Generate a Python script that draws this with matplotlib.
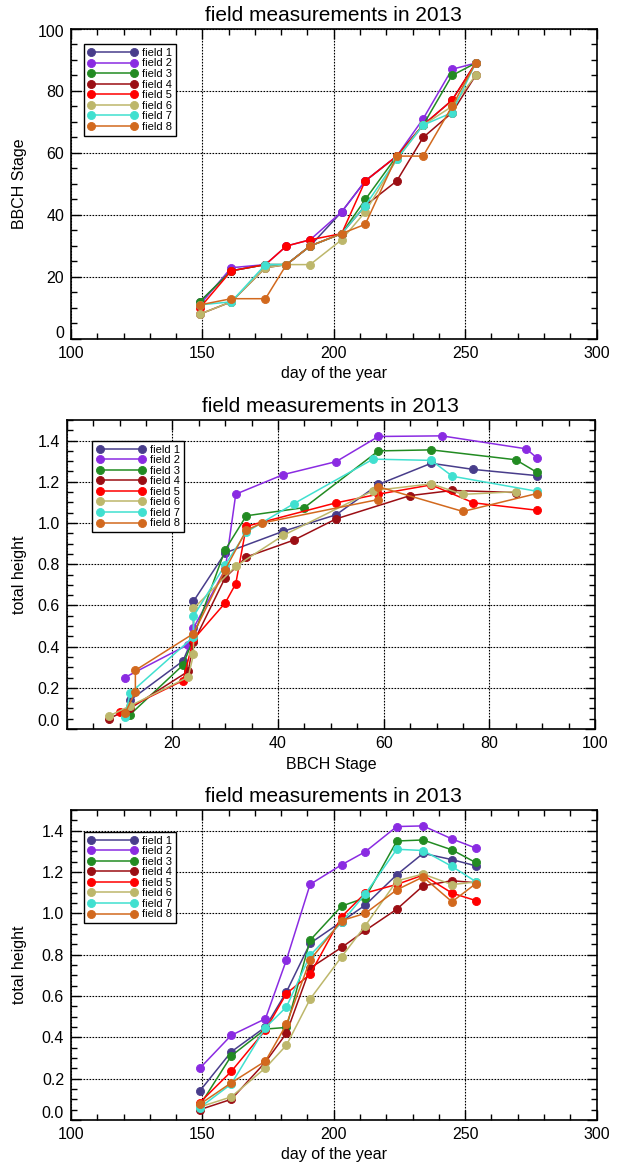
import matplotlib
matplotlib.use('Agg')
import matplotlib.pyplot as plt
from matplotlib.ticker import MultipleLocator

plt.rcParams['font.family'] = ['Liberation Sans', 'DejaVu Sans']

# ---------------- data ----------------
days = [149, 161, 174, 182, 191, 203, 212, 224, 234, 245, 254]
field_names = ['field 1', 'field 2', 'field 3', 'field 4',
               'field 5', 'field 6', 'field 7', 'field 8']
colors = ['#483D8B', '#8A2BE2', '#228B22', '#9B0E14',
          '#FF0000', '#BDB76B', '#40E0D0', '#D2691E']

bbch_1 = [12, 22, 24, 24, 30, 41, 51, 59, 69, 77, 89]
bbch_2 = [11, 23, 24, 30, 32, 41, 51, 59, 71, 87, 89]
bbch_3 = [12, 22, 24, 24, 30, 34, 45, 59, 69, 85, 89]
bbch_4 = [8, 12, 23, 24, 30, 34, 43, 51, 65, 73, 85]
bbch_5 = [10, 22, 24, 30, 32, 34, 51, 59, 69, 77, 89]
bbch_6 = [8, 12, 23, 24, 24, 32, 41, 58, 69, 75, 85]
bbch_7 = [11, 12, 24, 24, 30, 34, 43, 58, 69, 73, 89]
bbch_8 = [11, 13, 13, 24, 30, 34, 37, 59, 59, 75, 89]

height_1 = [0.14, 0.33, 0.45, 0.62, 0.855, 0.96, 1.04, 1.187, 1.29, 1.26, 1.23]
height_2 = [0.25, 0.41, 0.49, 0.775, 1.14, 1.235, 1.298, 1.42, 1.423, 1.36, 1.316]
height_3 = [0.07, 0.31, 0.44, 0.448, 0.87, 1.035, 1.075, 1.35, 1.355, 1.307, 1.246]
height_4 = [0.05, 0.10, 0.28, 0.42, 0.735, 0.835, 0.917, 1.02, 1.133, 1.158, 1.148]
height_5 = [0.084, 0.235, 0.435, 0.612, 0.705, 0.984, 1.098, 1.14, 1.185, 1.098, 1.062]
height_6 = [0.063, 0.112, 0.252, 0.362, 0.585, 0.79, 0.94, 1.157, 1.19, 1.139, 1.152]
height_7 = [0.06, 0.174, 0.447, 0.547, 0.797, 0.956, 1.094, 1.31, 1.304, 1.227, 1.154]
height_8 = [0.076, 0.18, 0.285, 0.463, 0.774, 0.965, 1.0, 1.114, 1.176, 1.056, 1.143]

bbch = [bbch_1, bbch_2, bbch_3, bbch_4, bbch_5, bbch_6, bbch_7, bbch_8]
heights = [height_1, height_2, height_3, height_4, height_5, height_6, height_7, height_8]

day_ticks = [100, 150, 200, 250, 300]
bbch_ticks = [0, 20, 40, 60, 80, 100]
bbch_ticklabels = ['', '20', '40', '60', '80', '100']
stage_ticks = [0, 20, 40, 60, 80, 100]
height_ticks = [0.0, 0.2, 0.4, 0.6, 0.8, 1.0, 1.2, 1.4]
title = 'field measurements in 2013'

# ---------------- figure ----------------
W, H = 621, 1162
fig = plt.figure(figsize=(W / 100, H / 100), dpi=100)


def px_axes(left, top, right, bottom):
    return fig.add_axes([left / W, 1 - bottom / H, (right - left) / W, (bottom - top) / H])


ax1 = px_axes(71, 29, 596.5, 339)
ax2 = px_axes(66.7, 420, 595, 729)
ax3 = px_axes(71, 810, 596.5, 1120)

line_kw = dict(lw=1.1, marker='o', ms=5.8, mew=0.6)

for i in range(8):
    ax1.plot(days, bbch[i], color=colors[i], label=field_names[i], **line_kw)
    ax2.plot(bbch[i], heights[i], color=colors[i], label=field_names[i], **line_kw)
    ax3.plot(days, heights[i], color=colors[i], label=field_names[i], **line_kw)

TICK_FS = 11.5


def style(ax, xlabel, ylabel, ylabel_x):
    ax.set_title(title, fontsize=15, pad=6)
    ax.set_xlabel(xlabel, fontsize=11.5, labelpad=4)
    ax.set_ylabel(ylabel, fontsize=11.5)
    ax.yaxis.set_label_coords(ylabel_x, 0.5)
    ax.tick_params(which='both', direction='in', top=True, right=True, labelsize=TICK_FS)
    ax.tick_params(which='major', length=7, width=1.0, pad=5)
    ax.tick_params(which='minor', length=4.5, width=1.0)
    ax.grid(True, which='major', color='k', ls=(0, (1.5, 1.2)), lw=0.8)
    for s in ax.spines.values():
        s.set_linewidth(1.2)


def set_yticks_shifted(ax, ticks, labels, bottom_shift=0, top_shift=0):
    """Major y ticks; the labels at the axis ends are nudged inwards (IDL style)."""
    ax.set_yticks(ticks)
    lo, hi = ax.get_ylim()
    shown = []
    for t, lab in zip(ticks, labels):
        if abs(t - lo) < 1e-9 and bottom_shift:
            shown.append('')
            ax.annotate(lab, xy=(0, t), xycoords=('axes fraction', 'data'),
                        xytext=(-7, bottom_shift), textcoords='offset pixels',
                        ha='right', va='center', fontsize=TICK_FS)
        elif abs(t - hi) < 1e-9 and top_shift:
            shown.append('')
            ax.annotate(lab, xy=(0, t), xycoords=('axes fraction', 'data'),
                        xytext=(-7, -top_shift), textcoords='offset pixels',
                        ha='right', va='center', fontsize=TICK_FS)
        else:
            shown.append(lab)
    ax.set_yticklabels(shown)


# top panel
ax1.set_xlim(100, 300)
ax1.set_ylim(0, 100)
ax1.set_xticks(day_ticks)
ax1.xaxis.set_minor_locator(MultipleLocator(10))
ax1.yaxis.set_minor_locator(MultipleLocator(5))
style(ax1, 'day of the year', 'BBCH Stage', (27 - 71) / 525.5)
set_yticks_shifted(ax1, stage_ticks, [str(v) for v in stage_ticks], bottom_shift=5, top_shift=4)

# middle panel
ax2.set_xlim(0, 100)
ax2.set_ylim(0, 1.5)
ax2.set_xticks(bbch_ticks)
ax2.set_xticklabels(bbch_ticklabels)
ax2.xaxis.set_minor_locator(MultipleLocator(5))
ax2.yaxis.set_minor_locator(MultipleLocator(0.05))
style(ax2, 'BBCH Stage', 'total height', (27 - 66.7) / 528.3)
set_yticks_shifted(ax2, height_ticks, [f'{v:.1f}' for v in height_ticks], bottom_shift=8)

# bottom panel
ax3.set_xlim(100, 300)
ax3.set_ylim(0, 1.5)
ax3.set_xticks(day_ticks)
ax3.xaxis.set_minor_locator(MultipleLocator(10))
ax3.yaxis.set_minor_locator(MultipleLocator(0.05))
style(ax3, 'day of the year', 'total height', (27 - 71) / 525.5)
set_yticks_shifted(ax3, height_ticks, [f'{v:.1f}' for v in height_ticks], bottom_shift=6)


def add_legend(ax, x, y):
    leg = ax.legend(loc='upper left', bbox_to_anchor=(x, y), borderaxespad=0,
                    numpoints=2, fontsize=8, handlelength=4.45, handletextpad=0.4,
                    labelspacing=0.05, borderpad=0.35, fancybox=False,
                    edgecolor='k', framealpha=1, markerscale=1.0)
    leg.get_frame().set_linewidth(1.0)
    return leg


add_legend(ax1, 13 / 525.5, 1 - 15 / 310)
add_legend(ax2, 25.6 / 528.3, 1 - 20.7 / 309)
add_legend(ax3, 13 / 525.5, 1 - 21.7 / 310)

fig.savefig('out.png', dpi=100)
